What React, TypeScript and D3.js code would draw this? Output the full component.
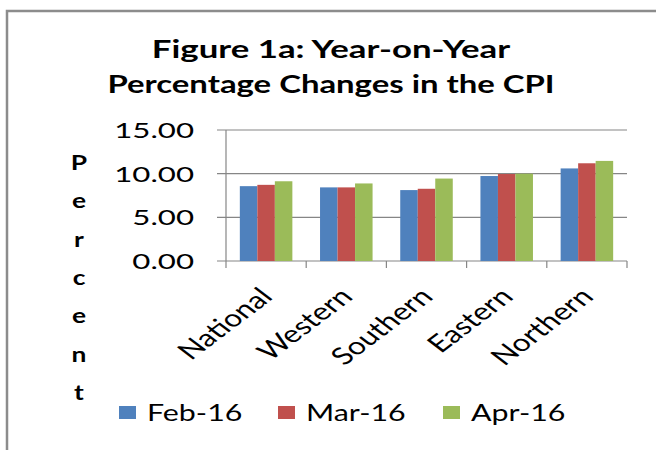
import React from "react";
import * as d3 from "d3";

const categories = ["National", "Western", "Southern", "Eastern", "Northern"];
const seriesNames = ["Feb-16", "Mar-16", "Apr-16"];
const feb16 = [8.57, 8.43, 8.12, 9.73, 10.6];
const mar16 = [8.72, 8.43, 8.27, 9.96, 11.19];
const apr16 = [9.13, 8.88, 9.44, 10.0, 11.46];
const yTicks = [0, 5, 10, 15];
const titleLines = ["Figure 1a: Year-on-Year", "Percentage Changes in the CPI"];
const yTitle = "Percent";
const colors = ["#4F81BD", "#C0504D", "#9BBB59"];

const W = 656;
const H = 450;
const SX = 1.32;
const FONT = "Lato, 'Open Sans', sans-serif";
const M = { left: 226, right: 627, top: 130, bottom: 261 };

function SText({ x, y, anchor = "start", size, weight = 400, children, rotate = 0, sx = SX }: any) {
  return (
    <text
      transform={`translate(${x},${y}) scale(${sx},1)${rotate ? ` rotate(${rotate})` : ""}`}
      textAnchor={anchor}
      fontFamily={FONT}
      fontSize={size}
      fontWeight={weight}
      fill="#000"
    >
      {children}
    </text>
  );
}

export default function App() {
  const values = [feb16, mar16, apr16];
  const y = d3.scaleLinear().domain([0, 15]).range([M.bottom, M.top]);
  const x0 = d3.scaleBand<string>().domain(categories).range([M.left, M.right]).paddingInner(0).paddingOuter(0);
  const x1 = d3.scaleBand<string>().domain(seriesNames).range([0, x0.bandwidth()]).paddingInner(0).paddingOuter(0.79);
  const grid = "#868686";
  const legendX = [119, 278, 443];

  return (
    <svg width={W} height={H} style={{ position: "absolute", left: 0, top: 0, background: "#fff" }}>
      <rect x={0} y={0} width={W} height={H} fill="#fff" />
      <path d={`M7,${H} V11 H${W}`} fill="none" stroke="#8c8c8c" strokeWidth={2.5} />

      {titleLines.map((t, i) => (
        <SText key={t} x={331} y={58 + i * 35} anchor="middle" size={24} weight={700} sx={i === 0 ? 1.45 : 1.37}>
          {t}
        </SText>
      ))}

      {yTicks.map((v) => (
        <g key={v}>
          <line x1={M.left - 9} x2={M.right} y1={y(v)} y2={y(v)} stroke={grid} strokeWidth={1.2} />
          <SText x={194} y={y(v) + 8} anchor="end" size={22} sx={1.42}>
            {d3.format(".2f")(v)}
          </SText>
        </g>
      ))}
      <line x1={M.left} x2={M.left} y1={M.top} y2={M.bottom} stroke={grid} strokeWidth={1.2} />
      {[...categories.map((c) => x0(c) as number), M.right].map((xv, i) => (
        <line key={i} x1={xv} x2={xv} y1={M.bottom} y2={M.bottom + 7} stroke={grid} strokeWidth={1.2} />
      ))}

      {categories.map((c, ci) => (
        <g key={c}>
          {seriesNames.map((s, si) => {
            const v = values[si][ci];
            return (
              <rect
                key={s}
                x={(x0(c) as number) + (x1(s) as number)}
                y={y(v)}
                width={x1.bandwidth()}
                height={y(0) - y(v)}
                fill={colors[si]}
              />
            );
          })}
        </g>
      ))}

      {categories.map((c) => {
        const cx = (x0(c) as number) + x0.bandwidth() / 2;
        return (
          <SText key={c} x={cx + 8} y={298} anchor="end" size={24} rotate={-45}>
            {c}
          </SText>
        );
      })}

      {yTitle.split("").map((ch, i) => (
        <SText key={i} x={79} y={170 + i * 38.3} anchor="middle" size={20} weight={700}>
          {ch}
        </SText>
      ))}

      {seriesNames.map((s, i) => (
        <g key={s}>
          <rect x={legendX[i]} y={406} width={17} height={13} fill={colors[i]} />
          <SText x={legendX[i] + 28} y={421} size={23}>
            {s}
          </SText>
        </g>
      ))}
    </svg>
  );
}
